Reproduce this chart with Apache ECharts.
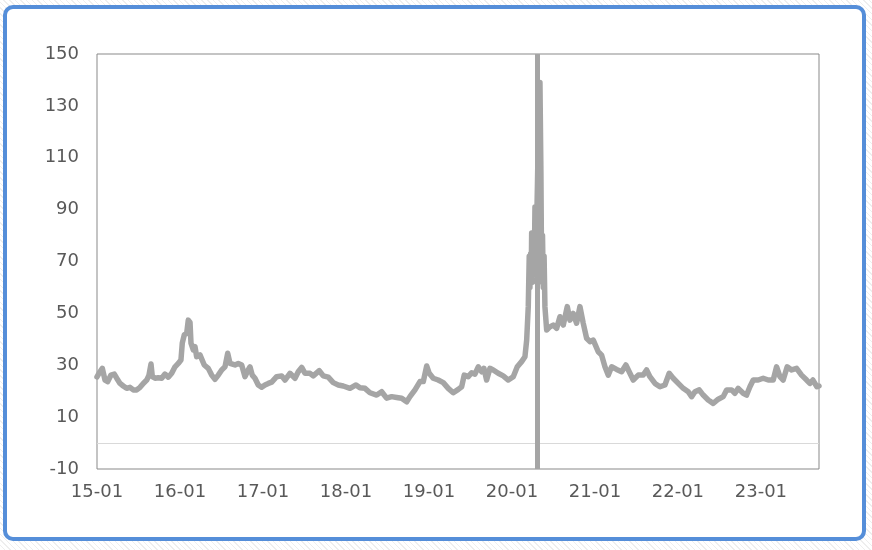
<!DOCTYPE html>
<html>
<head>
<meta charset="utf-8">
<script src="https://cdn.jsdelivr.net/npm/echarts@6/dist/echarts.min.js"></script>
<style>
  html, body { margin: 0; padding: 0; }
  body {
    width: 872px; height: 550px; overflow: hidden;
    background: repeating-linear-gradient(45deg, #ffffff 0px, #ffffff 3px, #eeeeee 3px, #eeeeee 4px);
  }
  #chart { width: 872px; height: 550px; }
</style>
</head>
<body>
<div id="chart"></div>
<script>
// Months elapsed since 2015-01 (x position of each observation)
const monthIndex = [
  0, 0.43, 0.77, 1.16, 1.55, 2.02, 2.50, 2.85, 3.33, 3.80, 4.29, 4.77, 5.25, 5.74, 6.22, 6.69, 7.19, 7.52, 7.81, 8.00,
  8.39, 8.86, 9.35, 9.83, 10.31, 10.80, 11.28, 11.75, 12.14, 12.33, 12.62, 12.97, 13.20, 13.45, 13.59, 13.92, 14.17, 14.41, 14.89, 15.14,
  15.51, 16.09, 16.58, 17.06, 17.54, 18.03, 18.51, 18.90, 19.23, 19.47, 19.95, 20.43, 20.92, 21.40, 21.87, 22.12, 22.45, 22.84, 23.32, 23.81,
  24.29, 24.77, 25.26, 25.98, 26.70, 27.18, 27.90, 28.63, 29.10, 29.60, 30.07, 30.80, 31.27, 32.14, 32.72, 33.44, 34.16, 34.89, 35.61, 36.58,
  37.45, 38.02, 38.75, 39.47, 40.44, 41.16, 41.88, 42.61, 43.33, 44.05, 44.78, 45.25, 45.98, 46.70, 47.18, 47.67, 48.04, 48.62, 49.34, 50.07,
  50.79, 51.51, 52.24, 52.73, 53.10, 53.68, 54.17, 54.65, 55.13, 55.62, 55.95, 56.34, 56.82, 57.30, 58.02, 58.74, 59.47, 60.19, 60.77, 61.40,
  61.88, 62.13, 62.36, 62.50, 62.60, 62.70, 62.78, 62.85, 62.97, 63.08, 63.21, 63.33, 63.47, 63.69, 63.80, 63.93, 64.05, 64.19, 64.30, 64.42,
  64.53, 64.65, 64.77, 65.02,
  65.49, 65.97, 66.46, 66.94, 67.42, 68.00, 68.39, 68.86, 69.35, 69.83, 70.31, 70.80, 71.28, 71.76, 72.00, 72.48, 72.97, 73.45, 73.92, 74.42,
  75.14, 75.86, 76.48, 77.06, 77.54, 78.26, 78.98, 79.47, 79.95, 80.68, 81.40, 82.12, 82.74, 83.32, 84.05, 84.77, 85.49, 85.98, 86.46, 87.08,
  87.66, 88.38, 89.10, 89.83, 90.55, 91.04, 91.76, 92.24, 92.72, 93.44, 93.93, 94.41, 94.89, 95.61, 96.33, 97.06, 97.78, 98.27, 98.75, 99.22,
  99.80, 100.44, 101.16, 101.88, 102.61, 103.08, 103.52, 104.10, 104.40
];
const indexValues = [
  25.5, 27.5, 28.8, 24.3, 23.7, 26.2, 26.6, 25.0, 23.0, 22.0, 21.1, 21.5, 20.5, 20.5, 21.5, 23.0, 24.3, 26.2, 30.5, 25.6,
  25.0, 25.2, 25.0, 26.6, 25.4, 26.9, 29.4, 30.7, 32.0, 38.5, 41.7, 42.3, 47.4, 46.5, 38.5, 35.9, 37.2, 33.3, 34.0, 34.6,
  30.1, 28.8, 26.2, 24.6, 26.2, 28.2, 29.4, 34.6, 30.7, 31.4, 30.1, 30.7, 30.1, 25.6, 28.2, 29.4, 26.2, 25.0, 22.4, 21.5,
  22.4, 23.0, 23.5, 25.6, 25.9, 24.3, 26.9, 25.0, 27.5, 29.2, 26.9, 26.9, 25.9, 27.9, 25.9, 25.4, 23.3, 22.4, 22.0, 21.1,
  22.4, 21.3, 21.1, 19.4, 18.5, 19.8, 17.3, 17.9, 17.6, 17.3, 15.9, 17.9, 20.5, 23.7, 23.7, 29.7, 26.9, 25.0, 24.3, 23.3,
  21.1, 19.4, 20.7, 21.7, 26.2, 25.6, 27.1, 26.6, 29.4, 27.5, 28.8, 24.3, 28.8, 28.2, 26.9, 25.9, 24.3, 25.6, 29.4, 31.4,
  33.3, 39.7, 52.6, 72.0, 60.0, 73.0, 62.0, 81.0, 62.0, 78.0, 65.0, 91.0, 70.0, 100.0, 117.0, 82.0, 139.0, 104.0, 62.0, 80.0,
  60.0, 72.0, 52.5, 43.6,
  44.8, 45.5, 44.2, 48.7, 45.5, 52.6, 47.4, 50.0, 46.2, 52.6, 46.2, 40.4, 39.1, 39.7, 40.4, 35.2, 33.9, 29.4, 26.2, 29.4,
  28.4, 27.5, 30.1, 26.9, 24.3, 26.2, 26.2, 28.2, 25.6, 23.0, 21.7, 22.4, 26.9, 25.0, 23.0, 21.1, 19.8, 17.9, 19.8, 20.5,
  18.5, 16.6, 15.3, 16.9, 17.9, 20.5, 20.5, 19.2, 21.1, 19.2, 18.5, 21.7, 24.3, 24.3, 25.0, 24.3, 24.3, 29.4, 25.6, 24.3,
  29.4, 28.2, 28.8, 26.2, 24.3, 23.0, 24.3, 21.7, 22.0
];
// Event marker (full-height vertical bar), in months since 2015-01
const eventMonth = [63.6];
// Reference line value
const zeroLine = [0];
// Tick labels for the x axis (one per year start)
const tickLabels = ['15-01', '16-01', '17-01', '18-01', '19-01', '20-01', '21-01', '22-01', '23-01'];
const xMax = 104.4;

const seriesData = monthIndex.map((m, i) => [m, indexValues[i]]);

const chart = echarts.init(document.getElementById('chart'), null, { renderer: 'canvas' });
const labelFont = 'DejaVu Sans';
chart.setOption({
  backgroundColor: 'transparent',
  animation: false,
  graphic: [{
    type: 'rect',
    shape: { x: 5, y: 7, width: 859, height: 532, r: 8 },
    style: { fill: '#ffffff', stroke: '#558ED9', lineWidth: 4 },
    z: -10,
    silent: true
  }],
  grid: {
    left: 97, right: 53, top: 54, bottom: 81,
    show: true, borderColor: '#898989', borderWidth: 1, backgroundColor: 'transparent'
  },
  xAxis: {
    type: 'value',
    min: 0, max: xMax, interval: 12,
    axisLine: { show: false },
    axisTick: { show: false },
    splitLine: { show: false },
    axisLabel: {
      margin: 14,
      color: '#595959',
      fontFamily: labelFont,
      fontSize: 18,
      showMaxLabel: false,
      formatter: v => (Math.abs(v % 12) < 1e-6 ? (tickLabels[Math.round(v / 12)] || '') : '')
    }
  },
  yAxis: {
    type: 'value',
    min: -10, max: 150, interval: 20,
    axisLine: { show: false },
    axisTick: { show: false },
    splitLine: { show: false },
    axisLabel: {
      margin: 18,
      color: '#595959',
      fontFamily: labelFont,
      fontSize: 18
    }
  },
  series: [{
    type: 'line',
    data: seriesData,
    showSymbol: false,
    symbol: 'none',
    clip: true,
    lineStyle: { color: '#A5A5A5', width: 5.5, join: 'round', cap: 'round' },
    z: 3,
    markLine: {
      silent: true,
      symbol: ['none', 'none'],
      label: { show: false },
      data: [
        { yAxis: zeroLine[0], lineStyle: { color: '#D9D9D9', width: 1, type: 'solid' } },
        { xAxis: eventMonth[0], lineStyle: { color: '#A5A5A5', width: 5, type: 'solid' } }
      ]
    }
  }]
});
</script>
</body>
</html>
